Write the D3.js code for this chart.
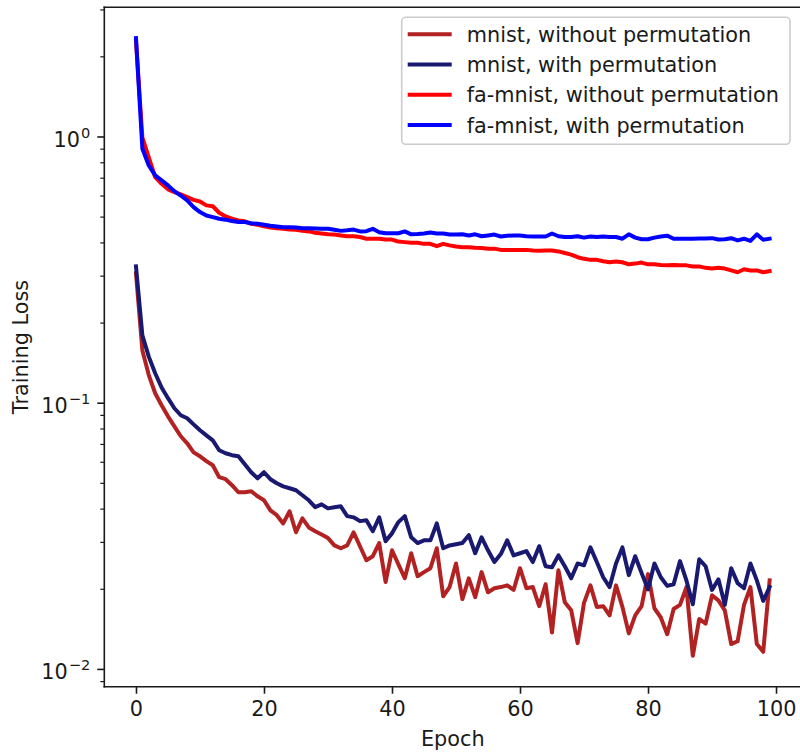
<!DOCTYPE html>
<html>
<head>
<meta charset="utf-8">
<script src="https://cdn.jsdelivr.net/npm/d3@7"></script>
<style>
  html, body { margin: 0; padding: 0; background: #fff; }
  svg { display: block; font-family: "DejaVu Sans", sans-serif; }
</style>
</head>
<body>
<svg id="chart" width="800" height="753"></svg>
<script>
// Training loss per epoch, four runs
const epochs = d3.range(0, 100);

const mnistNoPerm = [0.306,0.157,0.127,0.1085,0.0978,0.0889,0.0815,0.0748,0.0704,0.0651,
  0.0629,0.0603,0.0582,0.0525,0.0516,0.0490,0.0461,0.0461,0.0465,0.0445,
  0.0430,0.0394,0.0378,0.0352,0.0391,0.0326,0.0368,0.0340,0.0329,0.0320,
  0.0310,0.0291,0.0284,0.0291,0.0326,0.0289,0.0256,0.0265,0.0297,0.0212,
  0.0279,0.0247,0.0219,0.0272,0.0223,0.0231,0.0239,0.0284,0.01875,0.0203,
  0.0249,0.0183,0.0219,0.0186,0.0231,0.0194,0.0201,0.0203,0.0206,0.0198,
  0.0239,0.0201,0.0203,0.0172,0.0208,0.0137,0.0235,0.0178,0.0166,0.0125,
  0.0177,0.0206,0.0171,0.0172,0.0159,0.0206,0.0171,0.0136,0.0159,0.0172,
  0.0227,0.0169,0.0156,0.0135,0.0168,0.0174,0.0203,0.0112,0.0154,0.0148,
  0.0189,0.0181,0.0166,0.0124,0.0127,0.0174,0.0203,0.0124,0.0116,0.0215];

const mnistPerm = [0.325,0.179,0.149,0.129,0.114,0.104,0.0953,0.0897,0.0874,0.0829,
  0.0788,0.0754,0.0722,0.0663,0.0646,0.0635,0.0629,0.0587,0.0548,0.0520,
  0.0548,0.0516,0.0498,0.0485,0.0477,0.0469,0.0449,0.0430,0.0405,0.0415,
  0.0401,0.0405,0.0408,0.0375,0.0371,0.0359,0.0362,0.0329,0.0371,0.0302,
  0.0323,0.0356,0.0375,0.0312,0.0297,0.0304,0.0304,0.0352,0.0284,0.0291,
  0.0294,0.0297,0.0318,0.0272,0.0312,0.0279,0.0252,0.0270,0.0304,0.0267,
  0.0272,0.0277,0.0252,0.0289,0.0243,0.0241,0.0267,0.0243,0.0219,0.0249,
  0.0245,0.0286,0.0252,0.0221,0.0203,0.0249,0.0286,0.0225,0.0265,0.0229,
  0.0199,0.0249,0.0221,0.0205,0.0208,0.0254,0.0215,0.0175,0.0258,0.0243,
  0.0198,0.0217,0.0174,0.0239,0.0210,0.0201,0.0249,0.0215,0.0180,0.0203];

const faNoPerm = [2.29,0.991,0.834,0.703,0.664,0.633,0.618,0.606,0.592,0.578,
  0.570,0.551,0.547,0.517,0.501,0.491,0.484,0.480,0.470,0.466,
  0.460,0.455,0.452,0.450,0.447,0.446,0.442,0.440,0.435,0.432,
  0.429,0.428,0.425,0.422,0.422,0.419,0.413,0.413,0.413,0.410,
  0.410,0.403,0.401,0.399,0.399,0.395,0.395,0.387,0.395,0.390,
  0.386,0.384,0.384,0.382,0.381,0.379,0.379,0.375,0.375,0.375,
  0.375,0.375,0.373,0.372,0.373,0.373,0.370,0.365,0.360,0.352,
  0.347,0.344,0.344,0.340,0.337,0.339,0.337,0.331,0.333,0.336,
  0.331,0.331,0.329,0.328,0.329,0.328,0.328,0.325,0.325,0.321,
  0.319,0.321,0.319,0.314,0.309,0.317,0.314,0.314,0.309,0.312];

const faPerm = [2.34,0.899,0.778,0.714,0.684,0.655,0.623,0.600,0.575,0.543,
  0.520,0.505,0.498,0.491,0.487,0.481,0.477,0.477,0.472,0.470,
  0.466,0.462,0.459,0.456,0.456,0.455,0.452,0.452,0.451,0.450,
  0.450,0.446,0.442,0.444,0.447,0.440,0.441,0.450,0.437,0.433,
  0.433,0.433,0.440,0.429,0.430,0.432,0.436,0.432,0.432,0.428,
  0.428,0.429,0.425,0.429,0.422,0.425,0.428,0.421,0.424,0.425,
  0.425,0.422,0.421,0.421,0.421,0.432,0.422,0.419,0.419,0.422,
  0.417,0.421,0.419,0.421,0.419,0.419,0.413,0.429,0.417,0.411,
  0.411,0.417,0.421,0.424,0.413,0.413,0.413,0.413,0.414,0.414,
  0.415,0.410,0.411,0.415,0.407,0.413,0.405,0.429,0.409,0.413];

const seriesLabels = ["mnist, without permutation", "mnist, with permutation",
                      "fa-mnist, without permutation", "fa-mnist, with permutation"];
const seriesColors = ["#b22222", "#191970", "#ff0000", "#0000ff"];
const seriesValues = [mnistNoPerm, mnistPerm, faNoPerm, faPerm];

const xTicks = [0, 20, 40, 60, 80, 100];
const yMajorExps = [-2, -1, 0];
const xLabel = "Epoch";
const yLabel = "Training Loss";

// ---- layout ----
const ink = "#1a1a1a";
const fontSize = 20.8;
const supSize = 14.6;
const plot = { left: 104.3, right: 801.3, top: 7.3, bottom: 686.7 };

const svg = d3.select("#chart");

// x: 5% padding around epoch range
const xMin = d3.min(epochs), xMax = d3.max(epochs);
const xPad = (xMax - xMin) * 0.05;
const x = d3.scaleLinear().domain([xMin - xPad, xMax + xPad]).range([plot.left, plot.right]);

// y: log scale, 5% padding in log space
const allVals = seriesValues.flat();
const lMin = Math.log10(d3.min(allVals)), lMax = Math.log10(d3.max(allVals));
const lPad = (lMax - lMin) * 0.05;
const y = d3.scaleLog().domain([Math.pow(10, lMin - lPad), Math.pow(10, lMax + lPad)])
  .range([plot.bottom, plot.top]);

// clip for the data lines
svg.append("defs").append("clipPath").attr("id", "plotClip")
  .append("rect").attr("x", plot.left).attr("y", plot.top)
  .attr("width", plot.right - plot.left).attr("height", plot.bottom - plot.top);

// ---- lines ----
const line = d3.line().x((d, i) => x(epochs[i])).y(d => y(d));
const lines = svg.append("g").attr("clip-path", "url(#plotClip)");
seriesValues.forEach((vals, k) => {
  lines.append("path")
    .attr("d", line(vals))
    .attr("fill", "none")
    .attr("stroke", seriesColors[k])
    .attr("stroke-width", 4)
    .attr("stroke-linejoin", "round")
    .attr("stroke-linecap", "square");
});

// ---- x axis ----
const xAxis = d3.axisBottom(x).tickValues(xTicks).tickSize(7).tickPadding(7).tickFormat(d3.format("d"));
const gx = svg.append("g").attr("transform", `translate(0,${plot.bottom})`).call(xAxis);
gx.select(".domain").remove();
gx.selectAll(".tick line").attr("stroke", ink).attr("stroke-width", 1.6);
gx.selectAll(".tick text").attr("fill", ink).attr("font-size", fontSize)
  .attr("font-family", "DejaVu Sans").attr("dy", "0.71em").attr("y", 15);

// ---- y axis: minor ticks ----
const [d0, d1] = y.domain();
const minorVals = [];
for (let e = Math.floor(Math.log10(d0)); e <= Math.ceil(Math.log10(d1)); e++) {
  for (let m = 2; m <= 9; m++) {
    const v = m * Math.pow(10, e);
    if (v >= d0 && v <= d1) minorVals.push(v);
  }
}
const yMinor = d3.axisLeft(y).tickValues(minorVals).tickSize(4).tickFormat("");
const gyMinor = svg.append("g").attr("transform", `translate(${plot.left},0)`).call(yMinor);
gyMinor.select(".domain").remove();
gyMinor.selectAll(".tick line").attr("stroke", ink).attr("stroke-width", 1.2);

// ---- y axis: major ticks with 10^n labels ----
const yMajorVals = yMajorExps.map(e => Math.pow(10, e));
const yMajor = d3.axisLeft(y).tickValues(yMajorVals).tickSize(7).tickFormat("");
const gyMajor = svg.append("g").attr("transform", `translate(${plot.left},0)`).call(yMajor);
gyMajor.select(".domain").remove();
gyMajor.selectAll(".tick line").attr("stroke", ink).attr("stroke-width", 1.6);
gyMajor.selectAll(".tick").each(function(d, i) {
  const exp = yMajorExps[i];
  const t = d3.select(this).append("text")
    .attr("x", -14).attr("y", 9.8)
    .attr("text-anchor", "end")
    .attr("fill", ink)
    .attr("font-size", fontSize)
    .attr("font-family", "DejaVu Sans");
  t.append("tspan").text("10");
  t.append("tspan").attr("dx", 1).attr("dy", -9.2).attr("font-size", supSize)
    .text(exp < 0 ? "\u2212" + Math.abs(exp) : String(exp));
});

// ---- spines ----
const spines = svg.append("g").attr("stroke", ink).attr("stroke-width", 1.6)
  .attr("stroke-linecap", "square");
spines.append("line").attr("x1", plot.left).attr("x2", plot.left).attr("y1", plot.top).attr("y2", plot.bottom);
spines.append("line").attr("x1", plot.left).attr("x2", plot.right).attr("y1", plot.bottom).attr("y2", plot.bottom);
spines.append("line").attr("x1", plot.left).attr("x2", plot.right).attr("y1", plot.top).attr("y2", plot.top);
spines.append("line").attr("x1", plot.right).attr("x2", plot.right).attr("y1", plot.top).attr("y2", plot.bottom);

// ---- axis labels ----
svg.append("text")
  .attr("x", (plot.left + plot.right) / 2).attr("y", 745.5)
  .attr("text-anchor", "middle").attr("fill", ink)
  .attr("font-size", fontSize).attr("font-family", "DejaVu Sans")
  .text(xLabel);

svg.append("text")
  .attr("transform", `translate(28,${(plot.top + plot.bottom) / 2}) rotate(-90)`)
  .attr("text-anchor", "middle").attr("fill", ink)
  .attr("font-size", fontSize).attr("font-family", "DejaVu Sans")
  .text(yLabel);

// ---- legend ----
const lg = { x: 401.7, y: 17.3, w: 388.3, h: 127, rowY0: 34.3, rowStep: 30.25 };
const legend = svg.append("g");
legend.append("rect")
  .attr("x", lg.x).attr("y", lg.y).attr("width", lg.w).attr("height", lg.h)
  .attr("rx", 4).attr("ry", 4)
  .attr("fill", "#fff").attr("fill-opacity", 0.8)
  .attr("stroke", "#cccccc").attr("stroke-width", 1.6);
seriesLabels.forEach((lab, k) => {
  const cy = lg.rowY0 + k * lg.rowStep;
  legend.append("line")
    .attr("x1", lg.x + 8).attr("x2", lg.x + 48)
    .attr("y1", cy).attr("y2", cy)
    .attr("stroke", seriesColors[k]).attr("stroke-width", 4)
    .attr("stroke-linecap", "square");
  legend.append("text")
    .attr("x", lg.x + 65).attr("y", cy + 7.6)
    .attr("fill", ink).attr("font-size", fontSize).attr("font-family", "DejaVu Sans")
    .text(lab);
});
</script>
</body>
</html>
